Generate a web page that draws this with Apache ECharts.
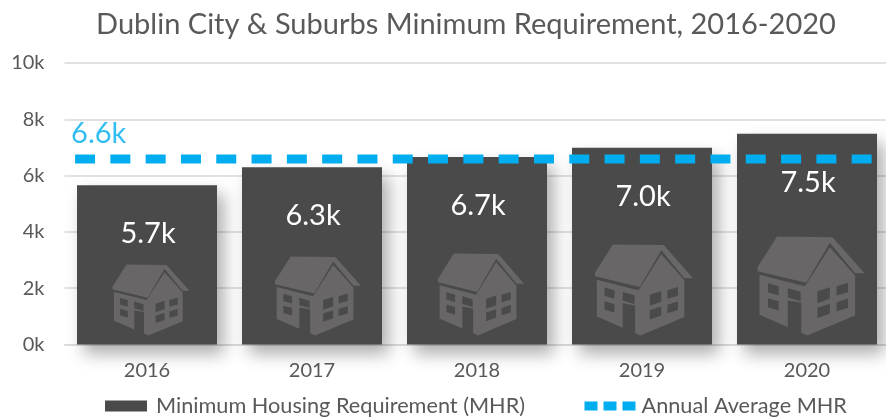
<!DOCTYPE html>
<html>
<head>
<meta charset="utf-8">
<style>
  html, body { margin: 0; padding: 0; background: #fff; overflow: hidden; }
  #chart { width: 886px; height: 418px; }
</style>
</head>
<body>
<div id="chart"></div>
<script src="https://cdn.jsdelivr.net/npm/echarts@6/dist/echarts.min.js"></script>
<script>
const years = ['2016', '2017', '2018', '2019', '2020']
const requirement = [5660, 6300, 6660, 6990, 7490]
const annualAverage = 6590
const yTicks = ['0k', '2k', '4k', '6k', '8k', '10k']

const barName = 'Minimum Housing Requirement (MHR)'
const avgName = 'Annual Average MHR'
const font = 'Lato, "Open Sans", sans-serif'
const grey = '#595959'
const blue = '#00aeef'

// house outline: roof, walls, then windows wound the other way so they cut out
const house = 'path://M597 440L655 348L820 350L915 458L887 458L812 367L742 487L597 452Z' +
  'M603 463L738 497L812 380L887 465L887 585L745 645L727 637L727 547L687 540L687 620L603 583Z' +
  'M628 488L628 515L660 525L660 497Z' +
  'M628 533L628 560L660 570L660 542Z' +
  'M687 503L687 531L725 542L725 514Z' +
  'M775 512L775 548L812 535L812 500Z' +
  'M832 497L832 525L866 515L866 487Z' +
  'M775 562L775 593L812 580L812 550Z' +
  'M832 545L832 572L866 562L866 534Z'
const houseSizes = [[77, 71], [86, 79], [86, 82], [98, 91], [107, 99]]
const houseShift = [4, 6, 4, 2, 4]

const chart = echarts.init(document.getElementById('chart'))
chart.setOption({
  animation: false,
  backgroundColor: '#fff',
  textStyle: { fontFamily: font },
  title: {
    text: 'Dublin City & Suburbs Minimum Requirement, 2016-2020',
    left: 461,
    top: 5,
    textAlign: 'center',
    textStyle: { fontFamily: font, fontSize: 29, fontWeight: 'normal', color: grey }
  },
  legend: [
    {
      data: [{ name: barName, icon: 'rect' }],
      left: 105,
      top: 395,
      padding: 0,
      itemWidth: 42,
      itemHeight: 11,
      textStyle: { fontFamily: font, fontSize: 21.7, color: grey, padding: [0, 0, 0, 4] },
      itemStyle: { shadowBlur: 0, shadowOffsetX: 0, shadowOffsetY: 0, shadowColor: 'transparent' }
    },
    {
      data: [avgName],
      left: 580,
      top: 395,
      padding: 0,
      itemWidth: 52,
      itemHeight: 9,
      textStyle: { fontFamily: font, fontSize: 21.7, color: grey, padding: [0, 0, 0, 0] },
      lineStyle: { type: [13, 6], width: 9, color: blue }
    }
  ],
  grid: { left: 64.5, width: 825, top: 63, height: 281.5, outerBoundsMode: 'none' },
  xAxis: [
    {
      type: 'category',
      data: years,
      axisTick: { show: false },
      axisLine: { lineStyle: { color: '#d9d9d9', width: 1.5 } },
      axisLabel: { fontFamily: font, fontSize: 20, color: grey, margin: 16 }
    },
    { type: 'value', min: 0, max: years.length, show: false }
  ],
  yAxis: {
    type: 'value',
    min: 0,
    max: 10000,
    interval: 2000,
    axisLine: { show: false },
    axisTick: { show: false },
    axisLabel: {
      fontFamily: font,
      fontSize: 20,
      color: grey,
      margin: 20,
      formatter: (v) => yTicks[v / 2000]
    },
    splitLine: { lineStyle: { color: '#d9d9d9', width: 1.5 } }
  },
  series: [
    {
      name: barName,
      type: 'bar',
      data: requirement,
      barWidth: 140,
      barGap: '-100%',
      z: 3,
      itemStyle: {
        color: '#4a4a4a',
        shadowColor: 'rgba(0,0,0,0.32)',
        shadowBlur: 16,
        shadowOffsetX: 7,
        shadowOffsetY: 9
      },
      label: {
        show: true,
        position: 'insideTop',
        distance: 34,
        offset: [1, 0],
        fontFamily: font,
        fontSize: 29,
        color: '#fff',
        formatter: (p) => (p.value / 1000).toFixed(1) + 'k'
      }
    },
    {
      name: 'House',
      type: 'pictorialBar',
      data: requirement.map((v, i) => ({
        value: v,
        symbolSize: houseSizes[i],
        symbolOffset: [houseShift[i], -9]
      })),
      barWidth: 140,
      barGap: '-100%',
      symbol: house,
      symbolPosition: 'start',
      itemStyle: { color: '#686667' },
      silent: true,
      z: 4
    },
    {
      name: avgName,
      type: 'line',
      xAxisIndex: 1,
      symbol: 'none',
      data: [[0.064, annualAverage], [4.894, annualAverage]],
      lineStyle: { color: blue, width: 9, type: [20, 15.3] },
      itemStyle: { color: blue },
      z: 5
    },
    {
      name: 'Average label',
      type: 'scatter',
      xAxisIndex: 1,
      symbolSize: 0,
      data: [[0.064, annualAverage]],
      silent: true,
      z: 5,
      label: {
        show: true,
        position: 'top',
        align: 'left',
        offset: [-4, -6],
        fontFamily: font,
        fontSize: 29,
        color: blue,
        formatter: () => (annualAverage / 1000).toFixed(1) + 'k'
      }
    }
  ]
})
</script>
</body>
</html>
